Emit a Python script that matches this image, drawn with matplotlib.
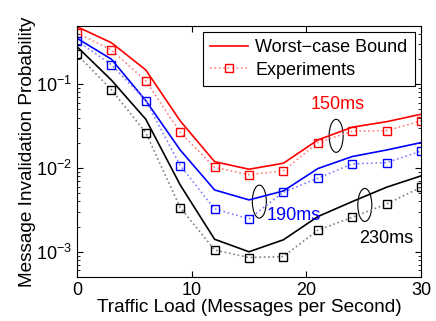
import matplotlib
matplotlib.use("Agg")
import matplotlib.pyplot as plt
from matplotlib.patches import Ellipse
from matplotlib.transforms import IdentityTransform
from matplotlib.lines import Line2D

plt.rcParams['font.family'] = ['Liberation Sans', 'DejaVu Sans']
plt.rcParams['mathtext.fontset'] = 'custom'
plt.rcParams['mathtext.rm'] = 'Liberation Sans'

load = [0, 3, 6, 9, 12, 15, 18, 21, 24, 27, 30]

bound_150 = [0.486, 0.313, 0.148, 0.0365, 0.0119, 0.00967, 0.0114, 0.0216, 0.0307, 0.0357, 0.0438]
exp_150 = [0.412, 0.256, 0.110, 0.0266, 0.0102, 0.00833, 0.00927, 0.0201, 0.0275, 0.0279, 0.0365]

bound_190 = [0.354, 0.199, 0.0637, 0.0164, 0.00547, 0.00416, 0.00532, 0.00984, 0.0137, 0.0164, 0.0201]
exp_190 = [0.331, 0.171, 0.0637, 0.0107, 0.00325, 0.00247, 0.00514, 0.00755, 0.0112, 0.0116, 0.0159]

bound_230 = [0.281, 0.112, 0.0382, 0.00628, 0.00141, 0.00100, 0.00139, 0.00263, 0.00397, 0.0059, 0.00805]
exp_230 = [0.228, 0.0861, 0.0264, 0.00337, 0.00105, 0.000853, 0.000877, 0.00181, 0.00258, 0.00372, 0.00589]

labels = ["150ms", "190ms", "230ms"]
label_pos = [(22.7, 0.057), (18.9, 0.0027), (27.0, 0.00145)]
ellipse_pos = [(22.6, 0.0242), (15.9, 0.00397), (25.1, 0.00362)]
colors = ["#ff0000", "#0000ff", "#000000"]
dot_colors = ["#ff8080", "#8080ff", "#808080"]

fig = plt.figure(figsize=(4.36, 3.21), dpi=100)
ax = fig.add_axes([0.1766, 0.1371, 0.789, 0.7829])

series = [(bound_150, exp_150), (bound_190, exp_190), (bound_230, exp_230)]
for i, (b, e) in enumerate(series):
    lb, = ax.plot(load, b, '-', color=colors[i], lw=1.2)
    ax.plot(load, e, ':', color=dot_colors[i], lw=1.2)
    ax.plot(load, e, 's', color=colors[i], mfc='none', ms=5.5, mew=1.0)
    if i == 0:
        h_exp = Line2D([], [], ls=':', color=dot_colors[0], lw=1.2, marker='s',
                       mec=colors[0], mfc='none', ms=5.5, mew=1.0)
        h_bound = lb

ax.set_yscale('log')
ax.set_xlim(0, 30)
ax.set_ylim(5e-4, 0.5)
ax.set_xticks([0, 10, 20, 30])
ax.set_yticks([1e-3, 1e-2, 1e-1])
ax.tick_params(which='both', direction='in', top=True, right=True, labelsize=13)
ax.tick_params(which='major', length=4)
ax.tick_params(which='minor', length=2)
ax.set_xlabel('Traffic Load (Messages per Second)', fontsize=13.7, labelpad=0)
ax.set_ylabel('Message Invalidation Probability', fontsize=13.7, labelpad=0)

leg = ax.legend([h_bound, h_exp], ['Worst\u2212case Bound', 'Experiments'], loc='upper right',
                fontsize=13, fancybox=False, edgecolor='black', framealpha=1,
                borderaxespad=0.35, handlelength=2.1, handletextpad=0.4, borderpad=0.4,
                labelspacing=0.3)
leg.get_frame().set_linewidth(0.8)

for i, t in enumerate(labels):
    ax.text(label_pos[i][0], label_pos[i][1], t, color=colors[i], fontsize=13,
            ha='center', va='center')

fig.canvas.draw()
for (xc, yc) in ellipse_pos:
    px, py = ax.transData.transform((xc, yc))
    ax.add_artist(Ellipse((px, py), 14, 33, transform=IdentityTransform(),
                          fill=False, edgecolor='black', lw=0.8))

fig.savefig('out.png', dpi=100)
